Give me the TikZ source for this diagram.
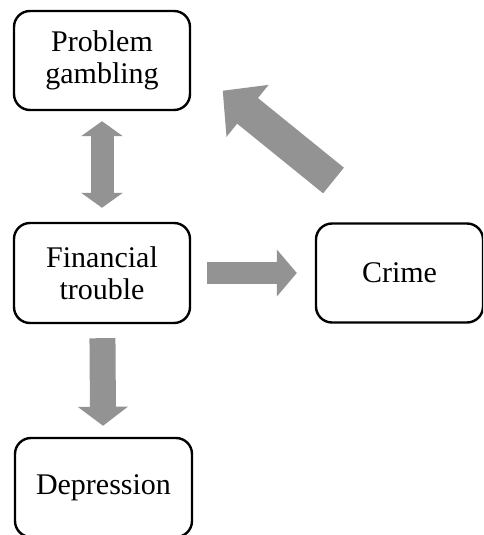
\documentclass[tikz,border=0pt]{standalone}
\usepackage{fontspec}
\setmainfont{Liberation Serif}
\usetikzlibrary{arrows.meta}
\definecolor{arrowgray}{RGB}{147,147,147}
\tikzset{
  box/.style={draw, line width=2.4pt, rounded corners=16pt, align=center,
    font=\fontsize{30}{32.5}\selectfont},
  block/.style={draw=arrowgray, fill=arrowgray}
}
\begin{document}
\begin{tikzpicture}[x=1pt,y=-1pt]
\useasboundingbox (0,0) rectangle (483,535);
\clip (0,0) rectangle (483,535);
\node[box, minimum width=176pt, minimum height=99pt] (gambling) at (102,60.5) {Problem\\gambling};
\node[box, minimum width=176pt, minimum height=100pt] (finance) at (102,273) {Financial\\trouble};
\node[box, minimum width=167pt, minimum height=99pt] (crime) at (399.5,273) {Crime};
\node[box, minimum width=177pt, minimum height=99pt] (depression) at (103.5,487.5) {Depression};
\coordinate (tail) at (333.5,180.5);
\coordinate (tip) at (222.7,90.7);
\path[block, line width=23pt, {Triangle[length=15pt,width=41pt]}-{Triangle[length=15pt,width=41pt]},
  shorten <=10pt, shorten >=14pt] (gambling) -- (finance);
\path[block, line width=22pt, -{Triangle[length=20pt,width=46pt]},
  shorten <=16pt, shorten >=18pt] (finance) -- (crime);
\path[block, line width=26pt, -{Triangle[length=19pt,width=49pt]},
  shorten <=14pt, shorten >=11pt] (finance) -- (depression);
\path[block, line width=33pt, -{Triangle[length=32pt,width=65pt]}] (tail) -- (tip);
\end{tikzpicture}
\end{document}
